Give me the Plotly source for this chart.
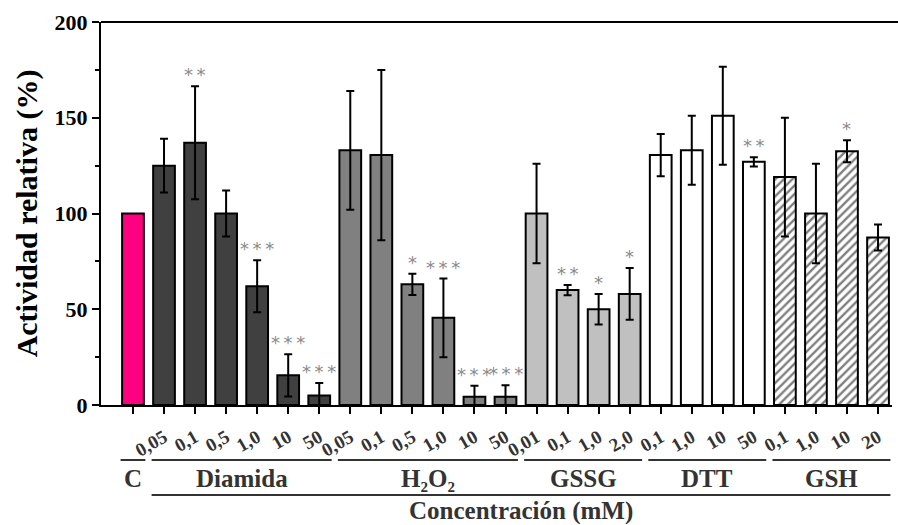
import plotly.graph_objects as go

# ---- data ----
groups = ["C", "Diamida", "H\u2082O\u2082", "GSSG", "DTT", "GSH"]
group_sizes = [1, 6, 6, 4, 4, 4]
conc_labels = ["", "0,05", "0,1", "0,5", "1,0", "10", "50",
               "0,05", "0,1", "0,5", "1,0", "10", "50",
               "0,01", "0,1", "1,0", "2,0",
               "0,1", "1,0", "10", "50",
               "0,1", "1,0", "10", "20"]
values = [100, 125, 137, 100, 62, 15.5, 5,
          133, 130.5, 63, 45.5, 4.3, 4.3,
          100, 60, 50, 58,
          130.5, 133, 151, 127,
          119, 100, 132.5, 87.5]
errors = [0, 14, 29.5, 12, 13.6, 11, 6.5,
          31, 44.5, 5.5, 20.5, 5.8, 6,
          26, 2.7, 8, 13.5,
          11, 18, 25.6, 2.4,
          31, 26, 5.7, 6.8]
signif = ["", "", "**", "", "***", "***", "***",
          "", "", "*", "***", "***", "***",
          "", "**", "*", "*",
          "", "", "", "**",
          "", "", "*", ""]
group_colors = ["#ff0080", "#404040", "#808080", "#c0c0c0", "#ffffff", "#ffffff"]
group_hatch = ["", "", "", "", "", "/"]

serif = "Liberation Serif, Times New Roman, serif"

fig = go.Figure()
start = 0
for g, n, col, hatch in zip(groups, group_sizes, group_colors, group_hatch):
    xs = list(range(start, start + n))
    fig.add_trace(go.Bar(
        x=xs, y=values[start:start + n],
        width=0.7,
        marker=dict(color=col, line=dict(color="black", width=2),
                    pattern=dict(shape=hatch, fgcolor="black", bgcolor="white",
                                 size=6, solidity=0.4) if hatch else None),
        error_y=dict(type="data", array=errors[start:start + n],
                     visible=any(e > 0 for e in errors[start:start + n]),
                     color="black", thickness=2, width=4),
        showlegend=False, name=g,
    ))
    start += n

# significance stars
for i, s in enumerate(signif):
    if s:
        fig.add_annotation(x=i, y=values[i] + errors[i], xref="x", yref="y",
                           text="\u2009".join(s), showarrow=False, yanchor="bottom",
                           yshift=-1, font=dict(family="DejaVu Sans", size=18, color="#8a8a8a"))

# group underlines and labels
start = 0
for g, n in zip(groups, group_sizes):
    x0 = start - 0.4
    x1 = start + n - 1 + 0.4
    fig.add_shape(type="line", xref="x", yref="paper", x0=x0, x1=x1,
                  y0=-0.1436, y1=-0.1436, line=dict(color="#333333", width=2))
    fig.add_annotation(x=(x0 + x1) / 2, y=-0.193, xref="x", yref="paper",
                       text="<b>%s</b>" % g, showarrow=False, yanchor="middle",
                       font=dict(family=serif, size=25, color="#333333"))
    start += n

# long line under all treatments
fig.add_shape(type="line", xref="x", yref="paper", x0=0.6, x1=24.4,
              y0=-0.235, y1=-0.235, line=dict(color="#333333", width=2))
fig.add_annotation(x=12.5, y=-0.278, xref="x", yref="paper",
                   text="<b>Concentración (mM)</b>", showarrow=False, yanchor="middle",
                   font=dict(family=serif, size=25, color="#333333"))

fig.update_layout(
    width=898, height=525,
    margin=dict(l=101, r=6, t=22, b=120),
    plot_bgcolor="white", paper_bgcolor="white",
    bargap=0.3,
    xaxis=dict(range=[-1.03, 24.45], tickmode="array",
               tickvals=list(range(len(conc_labels))),
               ticktext=["<b>%s</b>" % t for t in conc_labels],
               tickangle=-30, ticks="outside", ticklen=7, tickwidth=2,
               ticklabelstandoff=5,
               tickcolor="black", showline=True, linecolor="black", linewidth=2,
               mirror=False, showgrid=False, zeroline=False, automargin=False,
               tickfont=dict(family=serif, size=19, color="#333333")),
    yaxis=dict(range=[0, 200], tickvals=[0, 50, 100, 150, 200],
               ticks="outside", ticklen=7, tickwidth=2, tickcolor="black",
               minor=dict(tickvals=[25, 75, 125, 175], ticks="outside", ticklen=4,
                          tickwidth=1.5, tickcolor="black"),
               showline=True, linecolor="black", linewidth=2, showgrid=False,
               zeroline=False, automargin=False,
               tickfont=dict(family=serif, size=22, color="black", weight="bold"),
               title=dict(text="<b>Actividad relativa (%)</b>", standoff=8,
                          font=dict(family=serif, size=30, color="black"))),
)
# top frame line
fig.add_shape(type="line", xref="paper", yref="paper", x0=0, x1=1.01, y0=1, y1=1,
              line=dict(color="black", width=2))

fig.write_html("out.html")
